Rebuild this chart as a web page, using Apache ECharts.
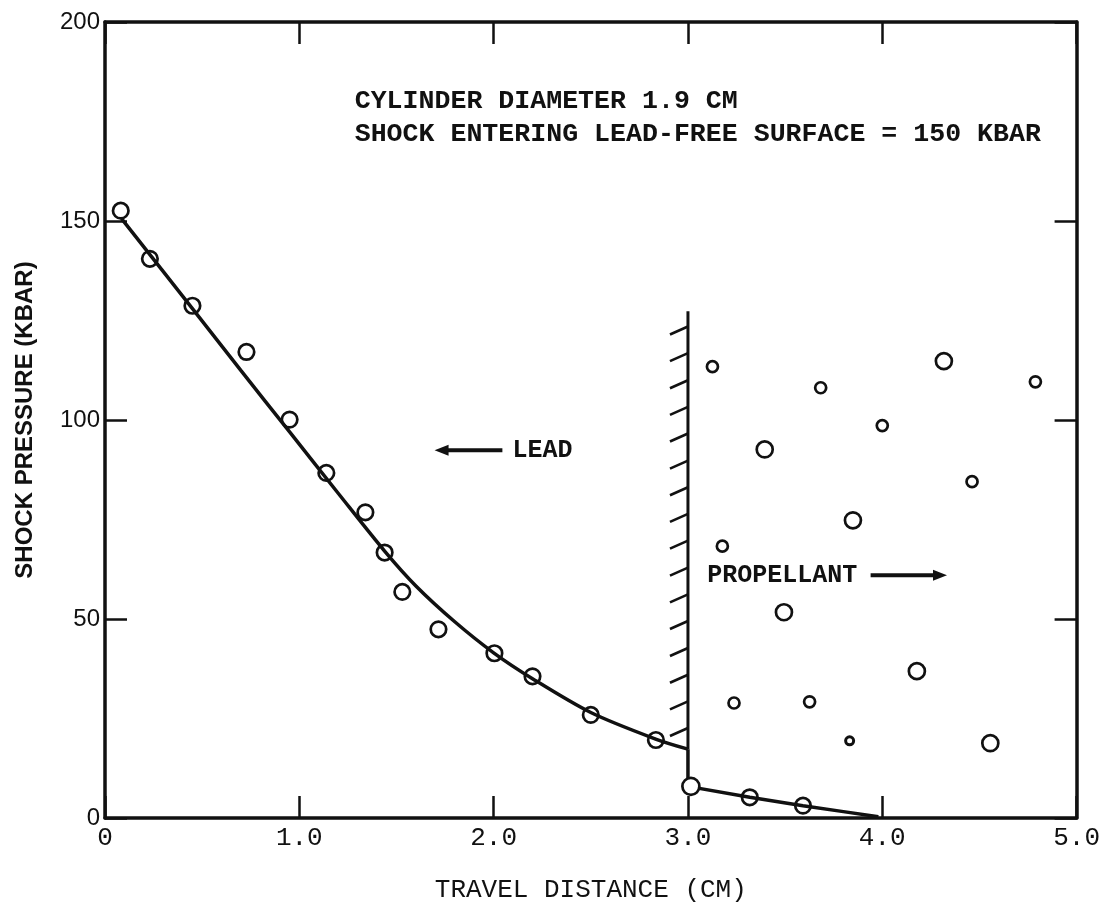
<!DOCTYPE html>
<html><head><meta charset="utf-8">
<script src="https://cdn.jsdelivr.net/npm/echarts@6.0.0/dist/echarts.min.js"></script>
<style>html,body{margin:0;padding:0;background:#fff}#c{width:1103px;height:908px}</style>
</head><body><div id="c"></div>
<script>
// ---- data ----
const xTickLabels = ['0', '1.0', '2.0', '3.0', '4.0', '5.0'];
const yTickLabels = ['0', '50', '100', '150', '200'];

// measured shock pressure in lead (circles)
const leadPoints = [
  [0.081, 152.6], [0.231, 140.5], [0.45, 128.7], [0.728, 117.1], [0.95, 100.1],
  [1.139, 86.7], [1.34, 76.8], [1.439, 66.7], [1.53, 56.8], [1.716, 47.4],
  [2.004, 41.4], [2.20, 35.6], [2.50, 25.9], [2.835, 19.6]
];
// fitted curve through lead data
const leadCurve = [
  [0.085, 150.6], [0.45, 128.0], [0.7, 112.4], [0.95, 97.0], [1.2, 81.6],
  [1.44, 67.0], [1.6, 58.3], [1.8, 49.3], [2.0, 41.5], [2.2, 35.0],
  [2.5, 26.5], [2.83, 19.9], [3.0, 17.3]
];
// measured points in propellant
const propPoints = [[3.015, 7.95], [3.318, 5.2], [3.592, 3.1]];
// curve in propellant (starts with drop at interface)
const propCurve = [[3.0, 17.3], [3.0, 7.95], [3.318, 5.2], [3.592, 3.1], [3.8, 1.6], [3.98, 0.3]];

// decorative "propellant" grains
const grainsLarge = [[4.317, 114.8], [3.395, 92.6], [3.849, 74.8], [3.494, 51.7], [4.178, 36.9], [4.556, 18.8]];
const grainsSmall = [[3.126, 113.4], [3.683, 108.1], [4.788, 109.6], [4.0, 98.6], [4.462, 84.5], [3.177, 68.3], [3.237, 28.9], [3.626, 29.2]];
const grainsTiny = [[3.832, 19.4]];

// interface wall with hatching
const wallX = 3.0;
const wallTop = 127.3;
const hatchY = [123.5, 116.8, 110.0, 103.3, 96.6, 89.8, 83.1, 76.4, 69.7, 62.9, 56.2, 49.5, 42.7, 36.0, 29.3, 22.6];

// annotations
const noteLines = [
  { text: 'CYLINDER DIAMETER 1.9 CM', at: [1.285, 180.0] },
  { text: 'SHOCK ENTERING LEAD-FREE SURFACE = 150 KBAR', at: [1.285, 171.9] }
];
const labelLead = { text: 'LEAD', at: [2.097, 92.4] };
const labelProp = { text: 'PROPELLANT', at: [3.099, 61.0] };
const arrowLead = { from: [2.045, 92.4], to: [1.696, 92.4] };
const arrowProp = { from: [3.94, 61.0], to: [4.333, 61.0] };

// ---- chart ----
const INK = '#111';
const monoFont = '"Liberation Mono", "DejaVu Sans Mono", monospace';
const sansFont = '"Liberation Sans", Arial, sans-serif';
const chart = echarts.init(document.getElementById('c'), null, { renderer: 'canvas' });

function axisCommon(extra) {
  return Object.assign({
    axisLine: { show: true, onZero: false, lineStyle: { color: INK, width: 3.5 } },
    axisTick: { show: true, inside: true, length: 22, lineStyle: { color: INK, width: 2.5 } },
    splitLine: { show: false }
  }, extra);
}

function arrow(api, a, children) {
  const p1 = api.coord(a.from), p2 = api.coord(a.to);
  const dir = Math.sign(p2[0] - p1[0]);
  const headLen = 14, headHalf = 5.5;
  children.push({ type: 'line', shape: { x1: p1[0], y1: p1[1], x2: p2[0] - dir * headLen * 0.6, y2: p2[1] },
    style: { stroke: INK, lineWidth: 4 } });
  children.push({ type: 'polygon', shape: { points: [[p2[0], p2[1]], [p2[0] - dir * headLen, p2[1] - headHalf], [p2[0] - dir * headLen, p2[1] + headHalf]] },
    style: { fill: INK } });
}

const ring = { color: 'rgba(0,0,0,0)', borderColor: INK, borderWidth: 2.7, opacity: 1 };

const option = {
  animation: false,
  backgroundColor: '#fff',
  grid: { left: 105, right: 25, top: 22, bottom: 89, containLabel: false },
  xAxis: [
    axisCommon({
      type: 'value', min: 0, max: 5, interval: 1, position: 'bottom',
      name: 'TRAVEL DISTANCE (CM)', nameLocation: 'middle', nameGap: 59, nameMoveOverlap: false,
      nameTextStyle: { fontFamily: monoFont, fontSize: 26, color: INK },
      axisLabel: { show: true, margin: 7, fontFamily: monoFont, fontSize: 26, color: INK,
        formatter: v => xTickLabels[Math.round(v)] }
    }),
    axisCommon({ type: 'value', min: 0, max: 5, interval: 1, position: 'top', axisLabel: { show: false } })
  ],
  yAxis: [
    axisCommon({
      type: 'value', min: 0, max: 200, interval: 50, position: 'left',
      name: 'SHOCK PRESSURE (KBAR)', nameLocation: 'middle', nameGap: 68, nameRotate: 90, nameMoveOverlap: false,
      nameTextStyle: { fontFamily: sansFont, fontWeight: 'bold', fontSize: 24, color: INK },
      axisLabel: { show: true, margin: 5, fontFamily: sansFont, fontSize: 24, color: INK,
        formatter: v => yTickLabels[Math.round(v / 50)] }
    }),
    axisCommon({ type: 'value', min: 0, max: 200, interval: 50, position: 'right', axisLabel: { show: false } })
  ],
  series: [
    {
      type: 'line', name: 'lead fit', data: leadCurve, smooth: 0.3, showSymbol: false,
      lineStyle: { color: INK, width: 3.5 }, z: 3, silent: true
    },
    {
      type: 'line', name: 'propellant fit', data: propCurve, smooth: false, showSymbol: false,
      lineStyle: { color: INK, width: 3.5 }, z: 3, silent: true
    },
    {
      type: 'scatter', name: 'lead data', data: leadPoints, symbol: 'circle', symbolSize: 15.5,
      itemStyle: ring, z: 4
    },
    {
      type: 'scatter', name: 'propellant data', symbol: 'circle',
      data: propPoints.map((p, i) => i === 0
        ? { value: p, symbolSize: 17, itemStyle: { color: '#fff' } }
        : { value: p, symbolSize: 15.5 }),
      itemStyle: ring, z: 5
    },
    { type: 'scatter', name: 'grains L', data: grainsLarge, symbol: 'circle', symbolSize: 16, itemStyle: ring },
    { type: 'scatter', name: 'grains S', data: grainsSmall, symbol: 'circle', symbolSize: 11, itemStyle: ring },
    { type: 'scatter', name: 'grains T', data: grainsTiny, symbol: 'circle', symbolSize: 8,
      itemStyle: Object.assign({}, ring, { borderWidth: 3 }) },
    {
      type: 'custom', name: 'annotations', coordinateSystem: 'cartesian2d', data: [[0, 0]], silent: true, z: 2,
      renderItem: function (params, api) {
        const children = [];
        const top = api.coord([wallX, wallTop]);
        const bot = api.coord([wallX, leadCurve[leadCurve.length - 1][1]]);
        children.push({ type: 'line', shape: { x1: top[0], y1: top[1], x2: bot[0], y2: bot[1] },
          style: { stroke: INK, lineWidth: 3 } });
        hatchY.forEach(function (y) {
          const p = api.coord([wallX, y]);
          children.push({ type: 'line', shape: { x1: p[0] - 18, y1: p[1] + 8, x2: p[0], y2: p[1] },
            style: { stroke: INK, lineWidth: 2.6 } });
        });
        arrow(api, arrowLead, children);
        arrow(api, arrowProp, children);
        noteLines.forEach(function (n) {
          const p = api.coord(n.at);
          children.push({ type: 'text', style: { text: n.text, x: p[0], y: p[1], fill: INK,
            font: 'bold 26.6px ' + monoFont, align: 'left', verticalAlign: 'middle' } });
        });
        [labelLead, labelProp].forEach(function (n) {
          const p = api.coord(n.at);
          children.push({ type: 'text', style: { text: n.text, x: p[0], y: p[1], fill: INK,
            font: 'bold 25px ' + monoFont, align: 'left', verticalAlign: 'middle' } });
        });
        return { type: 'group', children: children };
      }
    }
  ]
};
chart.setOption(option);
</script>
</body></html>
